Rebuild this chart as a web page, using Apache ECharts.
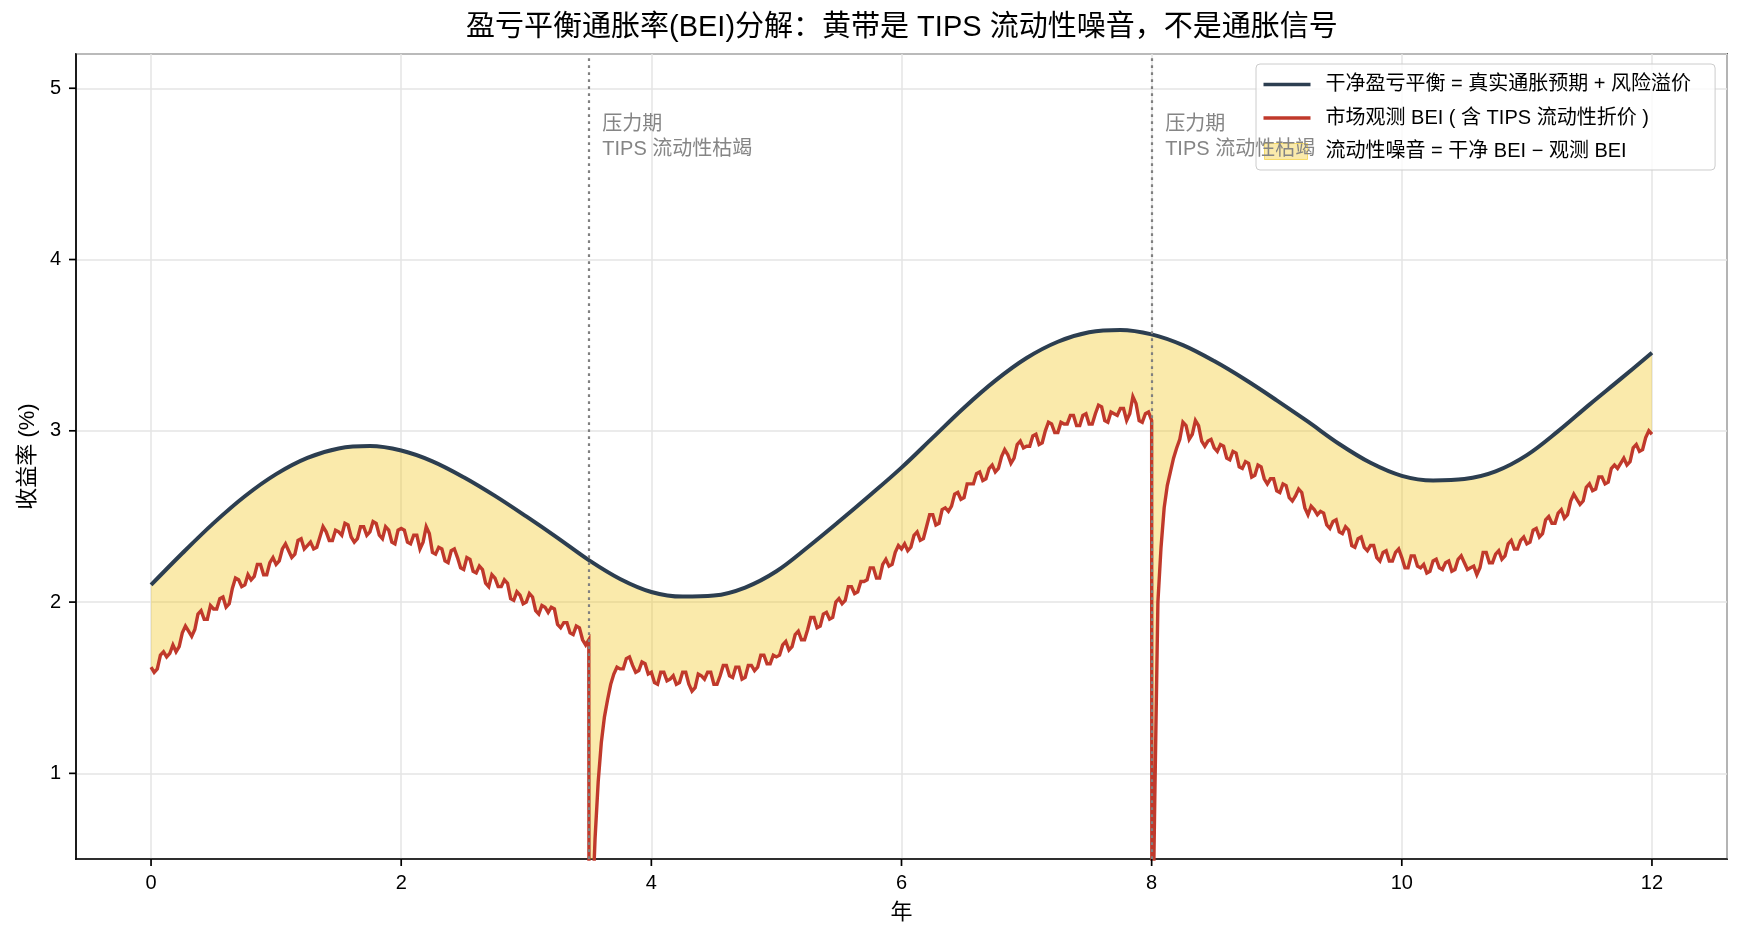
<!DOCTYPE html>
<html>
<head>
    <meta charset="utf-8" />
    <title>BEI 分解</title>
    <script src="https://cdn.jsdelivr.net/npm/echarts@6/dist/echarts.min.js"></script>
    <style>
        html, body { margin: 0; padding: 0; background: #fff; }
        #chart { width: 1742px; height: 943px; }
    </style>
</head>
<body>
    <div id="chart"></div>
    <script>
    // 干净 BEI，每 0.25 年读一个点
    var cleanStep = 0.25;
    var cleanBei = [
        2.100, 2.285, 2.461, 2.618, 2.747, 2.842, 2.897, 2.911,
        2.885, 2.822, 2.729, 2.620, 2.500, 2.375, 2.245, 2.135,
        2.059, 2.032, 2.038, 2.085, 2.180, 2.320, 2.470, 2.625,
        2.785, 2.960, 3.135, 3.293, 3.425, 3.520, 3.575, 3.589,
        3.563, 3.500, 3.407, 3.298, 3.178, 3.053, 2.923, 2.813,
        2.737, 2.710, 2.718, 2.763, 2.858, 2.998, 3.153, 3.303,
        3.456
    ];

    // 市场观测 BEI，每 0.05 年一个点（每行一年）
    var obsStep = 0.05;
    var obsBei = [
        1.62, 1.61, 1.71, 1.70, 1.71, 1.82, 1.83, 1.84, 1.95, 1.90, 1.96, 2.02, 1.97, 2.08, 2.13, 2.10, 2.13, 2.22, 2.16, 2.23,
        2.22, 2.31, 2.30, 2.28, 2.37, 2.33, 2.31, 2.38, 2.41, 2.36, 2.41, 2.46, 2.38, 2.37, 2.44, 2.41, 2.46, 2.37, 2.42, 2.34,
        2.43, 2.35, 2.39, 2.31, 2.44, 2.29, 2.32, 2.24, 2.30, 2.26, 2.19, 2.25, 2.17, 2.19, 2.09, 2.14, 2.09, 2.11, 2.01, 2.04,
        2.00, 2.03, 1.93, 1.97, 1.97, 1.87, 1.88, 1.82, 1.86, 1.78, 1.78, 0.62, 1.18, 1.43, 1.58, 1.61, 1.67, 1.63, 1.60, 1.64,
        1.59, 1.52, 1.59, 1.55, 1.52, 1.59, 1.52, 1.50, 1.57, 1.59, 1.52, 1.57, 1.63, 1.56, 1.62, 1.56, 1.63, 1.62, 1.69, 1.64,
        1.68, 1.75, 1.72, 1.81, 1.78, 1.84, 1.91, 1.86, 1.94, 1.91, 2.02, 2.01, 2.09, 2.06, 2.12, 2.20, 2.14, 2.22, 2.21, 2.29,
        2.31, 2.30, 2.39, 2.36, 2.44, 2.51, 2.46, 2.55, 2.56, 2.64, 2.61, 2.69, 2.75, 2.71, 2.78, 2.76, 2.85, 2.86, 2.84, 2.94,
        2.91, 2.97, 2.92, 3.00, 3.04, 2.99, 3.04, 3.09, 3.03, 3.09, 3.04, 3.10, 3.14, 3.05, 3.10, 3.13, 3.06, 3.20, 3.06, 3.10,
        3.06, 2.00, 2.55, 2.76, 2.90, 3.05, 2.95, 3.06, 2.94, 2.94, 2.90, 2.92, 2.84, 2.88, 2.79, 2.82, 2.73, 2.80, 2.72, 2.72,
        2.65, 2.69, 2.61, 2.62, 2.64, 2.51, 2.54, 2.53, 2.45, 2.47, 2.41, 2.44, 2.33, 2.37, 2.32, 2.33, 2.26, 2.29, 2.24, 2.29,
        2.26, 2.20, 2.27, 2.20, 2.17, 2.24, 2.20, 2.23, 2.18, 2.25, 2.23, 2.20, 2.16, 2.29, 2.23, 2.28, 2.25, 2.34, 2.31, 2.36,
        2.34, 2.42, 2.38, 2.48, 2.46, 2.52, 2.49, 2.59, 2.60, 2.59, 2.69, 2.66, 2.73, 2.70, 2.80, 2.81, 2.80, 2.90, 2.88, 2.96,
        2.98
    ];
    // 每两个观测点之间再读一个点（年份 + 0.025）
    var obsMid = [
        1.59, 1.69, 1.68, 1.75, 1.74, 1.86, 1.80, 1.93, 1.90, 1.98, 1.96, 2.03, 1.99, 2.14, 2.09, 2.16, 2.15, 2.22, 2.16, 2.26,
        2.24, 2.34, 2.26, 2.36, 2.31, 2.35, 2.32, 2.44, 2.36, 2.42, 2.39, 2.45, 2.35, 2.44, 2.39, 2.47, 2.39, 2.44, 2.35, 2.42,
        2.42, 2.34, 2.39, 2.35, 2.40, 2.28, 2.31, 2.23, 2.31, 2.20, 2.26, 2.18, 2.21, 2.11, 2.16, 2.09, 2.13, 2.02, 2.06, 1.99,
        2.05, 1.95, 1.98, 1.94, 1.96, 1.85, 1.88, 1.81, 1.85, 1.75, 0.15, 0.95, 1.33, 1.52, 1.62, 1.61, 1.68, 1.59, 1.65, 1.58,
        1.53, 1.59, 1.54, 1.57, 1.53, 1.59, 1.48, 1.58, 1.55, 1.59, 1.52, 1.63, 1.57, 1.62, 1.55, 1.63, 1.60, 1.69, 1.64, 1.69,
        1.69, 1.77, 1.74, 1.83, 1.78, 1.91, 1.85, 1.93, 1.90, 2.00, 1.99, 2.09, 2.05, 2.12, 2.13, 2.20, 2.14, 2.25, 2.22, 2.33,
        2.34, 2.32, 2.41, 2.37, 2.51, 2.45, 2.54, 2.53, 2.63, 2.60, 2.69, 2.69, 2.76, 2.72, 2.80, 2.78, 2.89, 2.81, 2.92, 2.90,
        2.91, 2.98, 2.93, 3.05, 2.99, 3.05, 3.04, 3.09, 3.03, 3.10, 3.04, 3.15, 3.06, 3.11, 3.09, 3.13, 3.10, 3.16, 3.05, 3.11,
        0.85, 2.32, 2.68, 2.84, 2.95, 3.03, 2.98, 3.03, 2.91, 2.95, 2.88, 2.91, 2.83, 2.87, 2.78, 2.81, 2.74, 2.79, 2.69, 2.72,
        2.64, 2.68, 2.59, 2.66, 2.55, 2.56, 2.51, 2.52, 2.43, 2.48, 2.40, 2.42, 2.32, 2.38, 2.30, 2.33, 2.24, 2.30, 2.24, 2.31,
        2.20, 2.27, 2.21, 2.22, 2.18, 2.25, 2.19, 2.24, 2.19, 2.27, 2.19, 2.21, 2.20, 2.29, 2.23, 2.30, 2.27, 2.36, 2.31, 2.38,
        2.35, 2.43, 2.40, 2.50, 2.46, 2.54, 2.51, 2.63, 2.57, 2.67, 2.65, 2.73, 2.69, 2.78, 2.78, 2.84, 2.82, 2.92, 2.89, 3.00
    ];

    // 压力期：流动性枯竭瞬间跌穿图底
    var shockYears = [3.5, 8.0];
    var shockLows = [-0.5, -0.3];
    var shockText = '压力期\nTIPS 流动性枯竭';

    var xMin = -0.6, xMax = 12.6, yMin = 0.5, yMax = 5.2;
    var xTicks = [0, 2, 4, 6, 8, 10, 12];
    var yTicks = [1, 2, 3, 4, 5];

    var nameClean = '干净盈亏平衡 = 真实通胀预期 + 风险溢价';
    var nameObs = '市场观测 BEI ( 含 TIPS 流动性折价 )';
    var nameBand = '流动性噪音 = 干净 BEI − 观测 BEI';

    var cleanPts = cleanBei.map(function (v, i) { return [i * cleanStep, v]; });
    var obsPts = [];
    obsBei.forEach(function (v, i) {
        var yr = i * obsStep;
        obsPts.push([yr, v]);
        shockYears.forEach(function (s, k) {
            if (Math.abs(yr - s) < 1e-9) obsPts.push([s + 0.002, shockLows[k]]);
        });
        if (i < obsMid.length) obsPts.push([yr + obsStep / 2, obsMid[i]]);
    });

    var FONT = '"Liberation Sans", "Noto Sans CJK SC", sans-serif';
    var bandColor = 'rgba(241,196,15,0.35)';
    var lineIcon = 'path://M0,0 M0,6.3 L47,6.3 L47,9.7 L0,9.7 Z M57,16';
    var patchIcon = 'path://M0,0 M1,0 L44,0 L44,16 L1,16 Z M57,16';
    var TICK_LEN = 7;

    // 刻度线（朝外），只画在有标签的位置
    function tickSeries(values, isX) {
        return {
            type: 'custom',
            z: 6,
            silent: true,
            clip: false,
            data: values.map(function (v) { return isX ? [v, yMin] : [xMin, v]; }),
            renderItem: function (params, api) {
                var p = api.coord([api.value(0), api.value(1)]);
                var shape = isX
                    ? { x1: p[0], y1: p[1], x2: p[0], y2: p[1] + TICK_LEN }
                    : { x1: p[0] - TICK_LEN, y1: p[1], x2: p[0], y2: p[1] };
                return { type: 'line', shape: shape, style: { stroke: '#000', lineWidth: 1.7 } };
            }
        };
    }

    var myChart = echarts.init(document.getElementById('chart'));
    var option = {
        animation: false,
        backgroundColor: '#fff',
        textStyle: { fontFamily: FONT },
        title: {
            text: '盈亏平衡通胀率(BEI)分解：黄带是 TIPS 流动性噪音，不是通胀信号',
            left: 466,
            top: 13,
            padding: 0,
            textStyle: { fontSize: 29, fontWeight: 'normal', color: '#000', fontFamily: FONT }
        },
        legend: {
            orient: 'vertical',
            left: 1256,
            top: 64,
            padding: [10.5, 24, 8.5, 7],
            itemWidth: 57,
            itemHeight: 16,
            itemGap: 13.5,
            selectedMode: false,
            backgroundColor: 'rgba(255,255,255,0.8)',
            borderColor: '#cccccc',
            borderWidth: 1,
            borderRadius: 4,
            textStyle: { fontSize: 20, color: '#000', fontFamily: FONT },
            data: [
                { name: nameClean, icon: lineIcon, itemStyle: { color: '#2c3e50', borderWidth: 0 } },
                { name: nameObs, icon: lineIcon, itemStyle: { color: '#c0392b', borderWidth: 0 } },
                { name: nameBand, icon: patchIcon, itemStyle: { color: bandColor, borderColor: 'rgba(241,196,15,0.55)', borderWidth: 1 } }
            ]
        },
        grid: {
            left: 76, right: 15, top: 54, bottom: 84,
            show: true,
            borderColor: '#000',
            borderWidth: 1.7,
            backgroundColor: 'transparent'
        },
        xAxis: {
            type: 'value',
            min: xMin,
            max: xMax,
            splitNumber: 7,
            name: '年',
            nameLocation: 'middle',
            nameGap: 43,
            nameTextStyle: { fontSize: 22, color: '#000', fontFamily: FONT },
            axisLine: { show: true, onZero: false, lineStyle: { color: '#000', width: 1.7 } },
            axisTick: { show: false },
            axisLabel: { customValues: xTicks, fontSize: 20, color: '#000', margin: 14, fontFamily: FONT },
            splitLine: { show: true, lineStyle: { color: '#e5e5e5', width: 1.5 } }
        },
        yAxis: {
            type: 'value',
            min: yMin,
            max: yMax,
            splitNumber: 5,
            name: '收益率 (%)',
            nameLocation: 'middle',
            nameGap: 34,
            nameRotate: 90,
            nameTextStyle: { fontSize: 22, color: '#000', fontFamily: FONT },
            axisLine: { show: true, onZero: false, lineStyle: { color: '#000', width: 1.7 } },
            axisTick: { show: false },
            axisLabel: { customValues: yTicks, fontSize: 20, color: '#000', margin: 15, fontFamily: FONT },
            splitLine: { show: true, lineStyle: { color: '#e5e5e5', width: 1.5 } }
        },
        series: [
            {
                // 黄带：干净 BEI 与观测 BEI 之间的区域
                name: nameBand,
                type: 'custom',
                z: 1,
                silent: true,
                clip: true,
                itemStyle: { color: bandColor },
                data: [[6, 3]],
                renderItem: function (params, api) {
                    var pts = [];
                    cleanPts.forEach(function (p) { pts.push(api.coord(p)); });
                    for (var i = obsPts.length - 1; i >= 0; i--) pts.push(api.coord(obsPts[i]));
                    return {
                        type: 'group',
                        clipPath: { type: 'rect', shape: params.coordSys },
                        children: [{ type: 'polygon', shape: { points: pts }, style: { fill: bandColor } }]
                    };
                }
            },
            {
                name: nameObs,
                type: 'line',
                z: 2,
                data: obsPts,
                symbol: 'none',
                showSymbol: false,
                silent: true,
                itemStyle: { color: '#c0392b' },
                lineStyle: { color: '#c0392b', width: 3.4, join: 'miter', miterLimit: 4 }
            },
            {
                name: nameClean,
                type: 'line',
                z: 3,
                data: cleanPts,
                symbol: 'none',
                showSymbol: false,
                smooth: 0.35,
                silent: true,
                itemStyle: { color: '#2c3e50' },
                lineStyle: { color: '#2c3e50', width: 4, join: 'round' },
                markLine: {
                    silent: true,
                    symbol: ['none', 'none'],
                    label: { show: false },
                    lineStyle: { type: [2.7, 4.3], width: 2.2, color: '#808080' },
                    data: shockYears.map(function (s) { return { xAxis: s }; })
                },
                markPoint: {
                    silent: true,
                    symbol: 'circle',
                    symbolSize: 1,
                    itemStyle: { color: 'rgba(0,0,0,0)' },
                    label: {
                        show: true,
                        position: 'right',
                        distance: 13,
                        formatter: shockText,
                        align: 'left',
                        lineHeight: 25,
                        fontSize: 20,
                        color: '#858585',
                        fontFamily: FONT
                    },
                    data: shockYears.map(function (s) { return { coord: [s, 4.715] }; })
                }
            },
            tickSeries(xTicks, true),
            tickSeries(yTicks, false)
        ]
    };
    myChart.setOption(option);
    </script>
</body>
</html>
